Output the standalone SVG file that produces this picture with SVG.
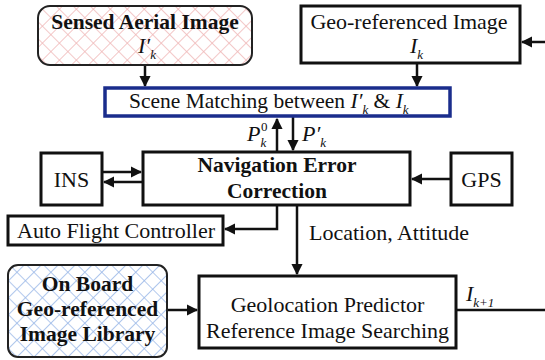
<svg xmlns="http://www.w3.org/2000/svg" width="545" height="360" viewBox="0 0 545 360">
<style>
text{font-family:'Liberation Serif','Times New Roman',Times,serif;fill:#111;}
.t{font-size:22px;}
.b{font-size:21.5px;font-weight:bold;}
.i{font-style:italic;}
.s{font-size:13px;}
.box{fill:#fff;stroke:#111;stroke-width:3;}
.ln{fill:none;stroke:#111;stroke-width:2.5;}
</style>
<defs>
<marker id="ah" viewBox="0 0 10 10" refX="9" refY="5" markerWidth="4.5" markerHeight="4.5" markerUnits="strokeWidth" orient="auto">
<path d="M0,0L10,5L0,10z" fill="#111"/>
</marker>
<pattern id="pink" width="12" height="12" patternUnits="userSpaceOnUse" patternTransform="rotate(45)">
<rect width="12" height="12" fill="#fff"/>
<path d="M0,0V12M0,0H12" stroke="#f0b8b8" stroke-width="1.6"/>
</pattern>
<pattern id="blue" width="12" height="12" patternUnits="userSpaceOnUse" patternTransform="rotate(45)">
<rect width="12" height="12" fill="#fff"/>
<path d="M0,0V12M0,0H12" stroke="#9ab8e8" stroke-width="1.6"/>
</pattern>
</defs>

<g id="connectors">
<path class="ln" d="M145,65V86" marker-end="url(#ah)"/>
<path class="ln" d="M417,63V86" marker-end="url(#ah)"/>
<path class="ln" d="M545,42H522" marker-end="url(#ah)"/>
<path class="ln" d="M277,152V119" marker-end="url(#ah)"/>
<path class="ln" d="M293,117V150" marker-end="url(#ah)"/>
<path class="ln" d="M102,172H141" marker-end="url(#ah)"/>
<path class="ln" d="M143,182H104" marker-end="url(#ah)"/>
<path class="ln" d="M451,179H412" marker-end="url(#ah)"/>
<path class="ln" d="M277,205V229H225" marker-end="url(#ah)"/>
<path class="ln" d="M297,205V274" marker-end="url(#ah)"/>
<path class="ln" d="M167,310H197" marker-end="url(#ah)"/>
<path class="ln" d="M456,310H545"/>
</g>

<g id="sensed">
<rect x="38" y="6" width="214" height="59" rx="12" fill="url(#pink)" stroke="#222" stroke-width="2"/>
<text class="b" x="145" y="29" text-anchor="middle">Sensed Aerial Image</text>
<text class="t i" x="138" y="53">I′<tspan class="s" dy="6">k</tspan></text>
</g>

<g id="georef">
<rect class="box" x="301" y="6" width="219" height="57"/>
<text class="t" x="409" y="29" text-anchor="middle">Geo-referenced Image</text>
<text class="t i" x="410" y="53">I<tspan class="s" dy="6">k</tspan></text>
</g>

<g id="scene">
<rect x="105" y="88" width="345" height="28" fill="#fff" stroke="#1a2d8c" stroke-width="3.5"/>
<text class="t" x="129" y="108" style="font-size:21.5px">Scene Matching between <tspan class="i">I′</tspan><tspan class="i s" dy="6">k</tspan><tspan dy="-6"> &amp; </tspan><tspan class="i">I</tspan><tspan class="i s" dy="6">k</tspan></text>
</g>

<text class="t i" x="247" y="141">P<tspan class="s" dy="6">k</tspan></text>
<text class="s" x="261" y="131">0</text>
<text class="t i" x="302" y="141">P′<tspan class="s" dy="6">k</tspan></text>

<g id="nav">
<rect class="box" x="143" y="152" width="267" height="53"/>
<text class="b" x="277" y="172" text-anchor="middle">Navigation Error</text>
<text class="b" x="277" y="198" text-anchor="middle">Correction</text>
</g>

<g id="ins">
<rect class="box" x="41" y="153" width="61" height="52"/>
<text class="t" x="71.5" y="187" text-anchor="middle">INS</text>
</g>

<g id="gps">
<rect class="box" x="451" y="153" width="61" height="52"/>
<text class="t" x="481.5" y="187" text-anchor="middle">GPS</text>
</g>

<g id="afc">
<rect class="box" x="8" y="216" width="215" height="29"/>
<text class="t" x="116" y="238" text-anchor="middle">Auto Flight Controller</text>
</g>

<text class="t" x="309" y="240">Location, Attitude</text>

<g id="onboard">
<rect x="8" y="265" width="159" height="92" rx="10" fill="url(#blue)" stroke="#222" stroke-width="2"/>
<text class="b" x="87.5" y="291" text-anchor="middle">On Board</text>
<text class="b" x="87.5" y="316" text-anchor="middle">Geo-referenced</text>
<text class="b" x="87.5" y="341" text-anchor="middle">Image Library</text>
</g>

<g id="geoloc">
<rect class="box" x="199" y="276" width="257" height="72"/>
<text class="t" x="327.5" y="312" text-anchor="middle">Geolocation Predictor</text>
<text class="t" x="327.5" y="338" text-anchor="middle">Reference Image Searching</text>
</g>

<text class="t i" x="466" y="301">I<tspan class="s" dy="6">k+1</tspan></text>
</svg>
